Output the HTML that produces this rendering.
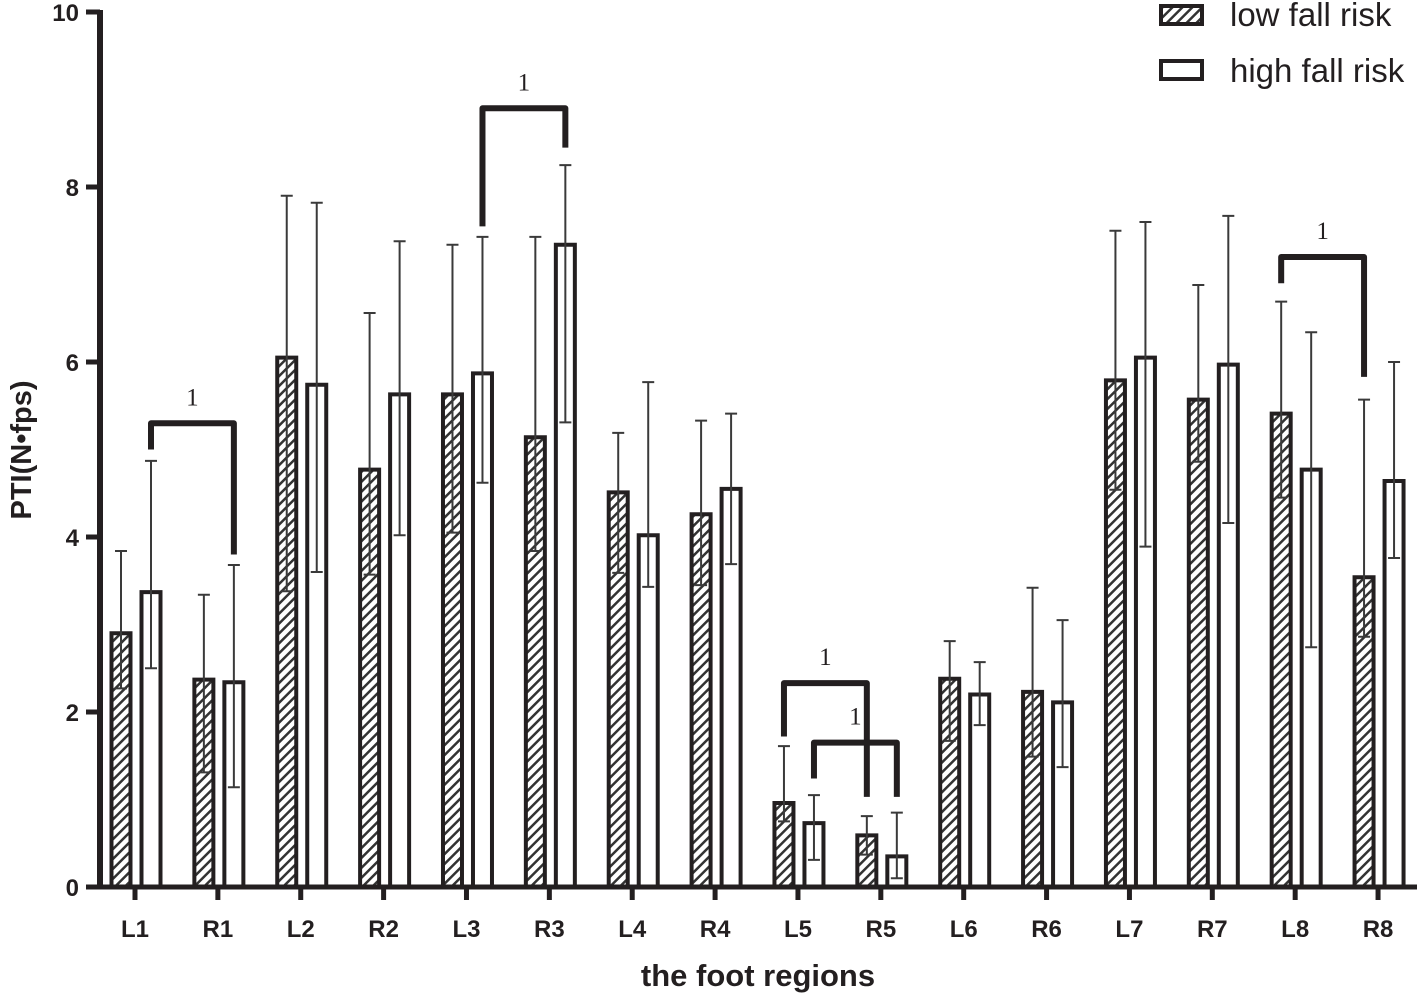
<!DOCTYPE html>
<html><head><meta charset="utf-8"><style>
html,body{margin:0;padding:0;background:#fff;}
svg{display:block;font-family:"Liberation Sans",Arial,sans-serif;}
</style></head><body>
<svg id="chart" width="1417" height="995" viewBox="0 0 1417 995">
<defs>
<pattern id="hatch" patternUnits="userSpaceOnUse" width="7" height="7" patternTransform="rotate(45)">
<rect width="7" height="7" fill="#fff"/><rect width="2.5" height="7" fill="#333"/>
</pattern>
</defs>
<g id="marks"></g>
<g id="axes"></g>
<text x="758" y="986" text-anchor="middle" font-size="31" font-weight="bold" fill="#231f20">the foot regions</text>
<text transform="translate(31,450) rotate(-90)" text-anchor="middle" font-size="29" font-weight="bold" fill="#231f20">PTI(N•fps)</text>
<g>
<rect x="1161" y="6" width="41" height="18" fill="url(#hatch)" stroke="#231f20" stroke-width="4"/>
<text x="1230" y="26" font-size="33" fill="#231f20">low fall risk</text>
<rect x="1161" y="61" width="41" height="18" fill="#fff" stroke="#231f20" stroke-width="4"/>
<text x="1230" y="82" font-size="33" fill="#231f20">high fall risk</text>
</g>
</svg>
<script>
const categories=["L1","R1","L2","R2","L3","R3","L4","R4","L5","R5","L6","R6","L7","R7","L8","R8"];
const lowMean=[2.9,2.37,6.05,4.77,5.63,5.14,4.51,4.26,0.96,0.59,2.38,2.23,5.79,5.57,5.41,3.54];
const lowUpper=[3.84,3.34,7.9,6.56,7.34,7.43,5.19,5.33,1.61,0.81,2.81,3.42,7.5,6.88,6.69,5.57];
const lowLower=[2.27,1.31,3.38,3.57,4.05,3.84,3.59,3.45,0.75,0.37,1.67,1.49,4.54,4.86,4.45,2.86];
const highMean=[3.37,2.34,5.74,5.63,5.87,7.34,4.02,4.55,0.73,0.35,2.2,2.11,6.05,5.97,4.77,4.64];
const highUpper=[4.87,3.68,7.82,7.38,7.43,8.25,5.77,5.41,1.05,0.85,2.57,3.05,7.6,7.67,6.34,6.0];
const highLower=[2.5,1.14,3.6,4.02,4.62,5.31,3.43,3.69,0.31,0.1,1.85,1.37,3.89,4.16,2.74,3.76];
const yTicks=[0,2,4,6,8,10];
// brackets: [fromCategory, fromSeries, toCategory, toSeries, level, fromLegEnd, toLegEnd]
const brackets=[[0,1,1,1,5.3,5.0,3.8],[4,1,5,1,8.9,7.55,8.45],[8,0,9,0,2.33,1.72,1.03],[8,1,9,1,1.65,1.24,1.03],[14,0,15,0,7.2,6.9,5.83]];
const NS="http://www.w3.org/2000/svg";
const y=v=>887-v*87.5;
const cx=i=>135+i*82.87;
const barX=(i,s)=>cx(i)+(s===0?-14:16);
const BW=19;
const ink="#231f20";
function mk(tag,attrs,parent){const e=document.createElementNS(NS,tag);for(const k in attrs)e.setAttribute(k,attrs[k]);parent.appendChild(e);return e;}
const marks=document.getElementById('marks'),axes=document.getElementById('axes');
const series=[[lowMean,lowUpper,lowLower,"url(#hatch)","low"],[highMean,highUpper,highLower,"#fff","high"]];
categories.forEach((c,i)=>{
  series.forEach((s,si)=>{
    const bx=barX(i,si);
    const r=mk('rect',{x:bx-BW/2,y:y(s[0][i]),width:BW,height:y(0)-y(s[0][i]),fill:s[3],stroke:ink,'stroke-width':4},marks);
    
    
    const g=mk('g',{stroke:"#3a3a3a",'stroke-width':2},marks);
    
    
    mk('line',{x1:bx,x2:bx,y1:y(s[1][i]),y2:y(s[2][i])},g);
    mk('line',{x1:bx-6,x2:bx+6,y1:y(s[1][i]),y2:y(s[1][i])},g);
    mk('line',{x1:bx-6,x2:bx+6,y1:y(s[2][i]),y2:y(s[2][i])},g);
  });
});
brackets.forEach((b,k)=>{
  const x1=barX(b[0],b[1]),x2=barX(b[2],b[3]),ly=y(b[4]);
  const p=mk('path',{d:`M${x1},${y(b[5])}V${ly}H${x2}V${y(b[6])}`,fill:"none",stroke:ink,'stroke-width':6,'stroke-linejoin':'round'},marks);
  
  
  const t=mk('text',{x:(x1+x2)/2,y:ly-18,'text-anchor':'middle','font-size':25,'font-family':'"Liberation Serif",serif',fill:ink},marks);
  t.textContent="1";
  
  
});
const ya=mk('line',{x1:100,x2:100,y1:y(10)-2,y2:y(0)+2,stroke:ink,'stroke-width':6},axes);


const xa=mk('line',{x1:98,x2:1417,y1:y(0),y2:y(0),stroke:ink,'stroke-width':5},axes);


yTicks.forEach(v=>{
  const l=mk('line',{x1:86,x2:100,y1:y(v),y2:y(v),stroke:ink,'stroke-width':5},axes);
  
  
  const t=mk('text',{x:79,y:y(v)+9,'text-anchor':'end','font-size':24,'font-weight':'bold',fill:ink},axes);
  t.textContent=v;
  
  
});
categories.forEach((c,i)=>{
  const l=mk('line',{x1:cx(i),x2:cx(i),y1:y(0),y2:y(0)+13,stroke:ink,'stroke-width':5},axes);
  
  
  const t=mk('text',{x:cx(i),y:937,'text-anchor':'middle','font-size':24,'font-weight':'bold',fill:ink},axes);
  t.textContent=c;
  
  
});
</script>
</body></html>
